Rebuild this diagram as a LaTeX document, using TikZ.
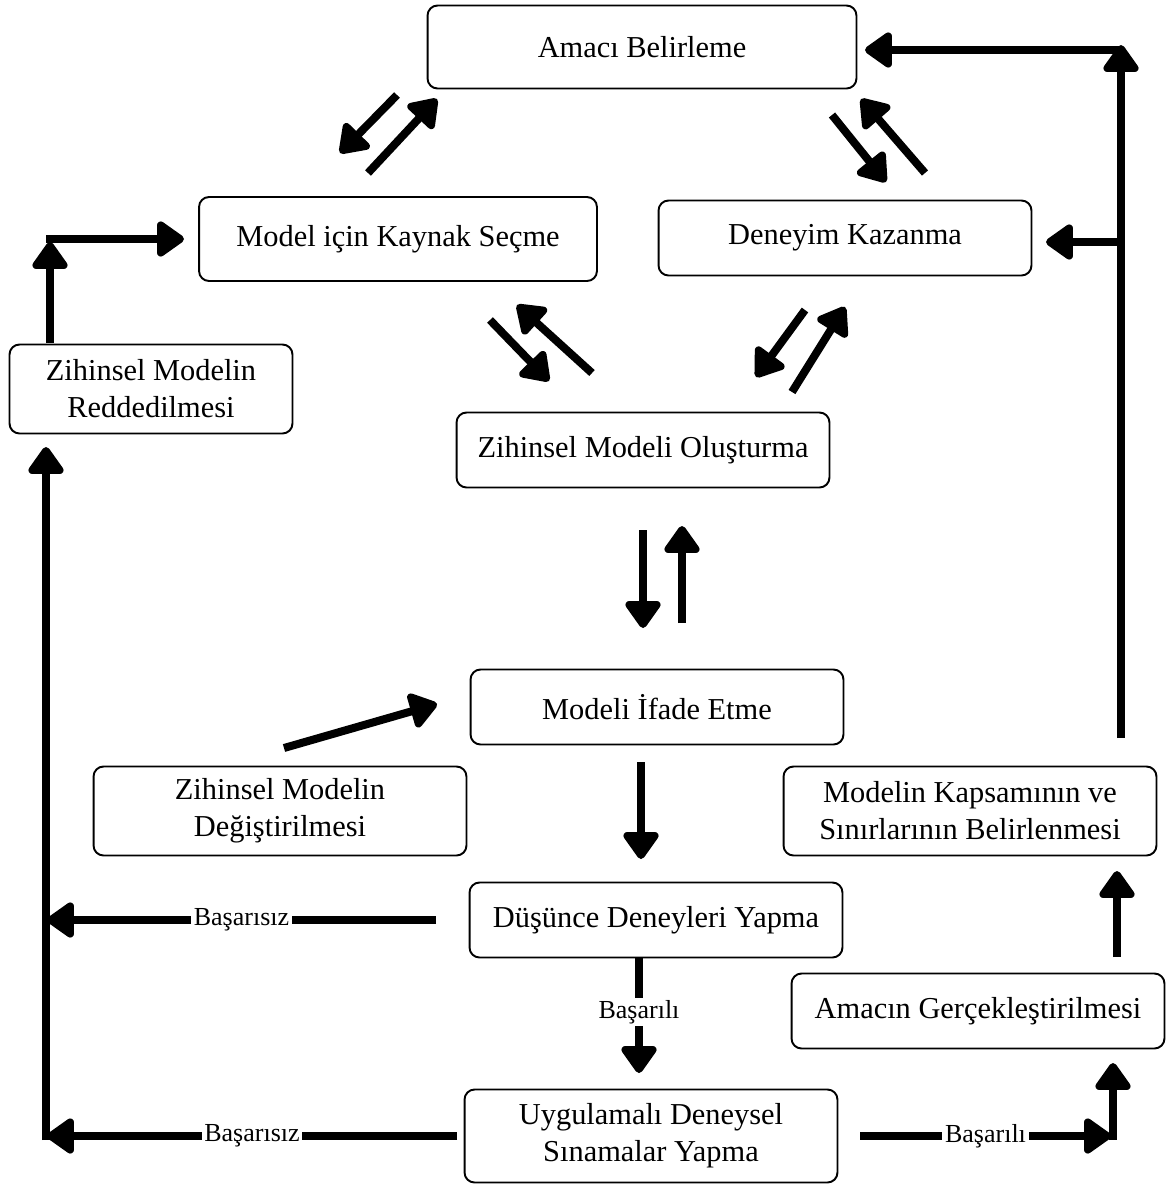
\documentclass[tikz,border=0pt]{standalone}
\usepackage{fontspec}
\setmainfont{Liberation Serif}
\usetikzlibrary{arrows.meta}

\begin{document}
\begin{tikzpicture}[x=0.02cm, y=-0.02cm,
    box/.style={draw, rounded corners=0.2cm, line width=1.1pt, minimum width=7.46cm, minimum height=1.5cm, align=center, font=\fontsize{17.3}{21}\selectfont},
    arr/.style={line width=0.16cm, -{Triangle[length=0.6cm, width=0.8cm, round]}},
    lbl/.style={fill=white, inner sep=1.5pt, font=\fontsize{14.8}{17}\selectfont}]
    \useasboundingbox (0,0) rectangle (1166,1187);

    \node[box, minimum width=8.58cm, minimum height=1.66cm] (amac) at (642, 47) {Amacı Belirleme};
    \node[box, minimum width=7.96cm, minimum height=1.68cm] (kaynak) at (398, 239) {Model için Kaynak Seçme};
    \node[box] (deneyim) at (845, 238) {Deneyim Kazanma};
    \node[box, minimum width=5.66cm, minimum height=1.78cm] (ret) at (151, 389) {Zihinsel Modelin\\Reddedilmesi};
    \node[box] (olustur) at (643, 450) {Zihinsel Modeli Oluşturma};
    \node[box] (ifade) at (657, 707) {Modeli İfade Etme};
    \node[box, minimum height=1.78cm] (degis) at (280, 811) {Zihinsel Modelin\\Değiştirilmesi};
    \node[box, minimum height=1.78cm] (kapsam) at (970, 811) {Modelin Kapsamının ve\\Sınırlarının Belirlenmesi};
    \node[box] (dusunce) at (656, 920) {Düşünce Deneyleri Yapma};
    \node[box] (gercek) at (978, 1011) {Amacın Gerçekleştirilmesi};
    \node[box, minimum height=1.86cm] (uygula) at (651, 1136) {Uygulamalı Deneysel\\Sınamalar Yapma};

    % ends of the floating arrows
    \coordinate (ak1) at (397, 95);   \coordinate (ak2) at (340, 153);
    \coordinate (ka1) at (368, 173);  \coordinate (ka2) at (437, 99);
    \coordinate (ad1) at (832, 115);  \coordinate (ad2) at (886, 182);
    \coordinate (da1) at (925, 173);  \coordinate (da2) at (861, 99);
    \coordinate (ko1) at (490, 320);  \coordinate (ko2) at (549, 381);
    \coordinate (ok1) at (592, 373);  \coordinate (ok2) at (517, 305);
    \coordinate (do1) at (805, 310);  \coordinate (do2) at (756, 377);
    \coordinate (od1) at (792, 392);  \coordinate (od2) at (845, 307);
    \coordinate (oi1) at (643, 530);  \coordinate (oi2) at (643, 628);
    \coordinate (io1) at (682, 623);  \coordinate (io2) at (682, 526);
    \coordinate (id1) at (641, 762);  \coordinate (id2) at (641, 859);
    \coordinate (di1) at (284, 748);  \coordinate (di2) at (437, 704);
    \coordinate (du1) at (639, 958);  \coordinate (du2) at (639, 1073);
    \coordinate (gk1) at (1117, 957); \coordinate (gk2) at (1117, 871);

    % frame lines
    \coordinate (lf1) at (436, 920);  \coordinate (lf2) at (47, 920);
    \coordinate (lf3) at (457, 1136); \coordinate (lf4) at (47, 1136);
    \coordinate (lb) at (46, 1140);   \coordinate (lt) at (46, 447);
    \coordinate (ru1) at (50, 343);   \coordinate (ru2) at (50, 242);
    \coordinate (rk1) at (46, 239);   \coordinate (rk2) at (184, 239);
    \coordinate (us1) at (860, 1136); \coordinate (us2) at (1111, 1136);
    \coordinate (uu1) at (1113, 1140); \coordinate (uu2) at (1113, 1063);
    \coordinate (kb) at (1121, 738);  \coordinate (kt) at (1121, 45);
    \coordinate (ka) at (1121, 50);   \coordinate (kl) at (865, 50);
    \coordinate (kd1) at (1121, 242); \coordinate (kd2) at (1046, 242);

    \draw[arr] (ak1) -- (ak2);
    \draw[arr] (ka1) -- (ka2);
    \draw[arr] (ad1) -- (ad2);
    \draw[arr] (da1) -- (da2);
    \draw[arr] (ko1) -- (ko2);
    \draw[arr] (ok1) -- (ok2);
    \draw[arr] (do1) -- (do2);
    \draw[arr] (od1) -- (od2);
    \draw[arr] (oi1) -- (oi2);
    \draw[arr] (io1) -- (io2);
    \draw[arr] (id1) -- (id2);
    \draw[arr] (di1) -- (di2);
    \draw[arr] (du1) -- node[lbl, pos=0.47] {Başarılı} (du2);
    \draw[arr] (gk1) -- (gk2);

    \draw[arr] (lf1) -- node[lbl, pos=0.5] {Başarısız} (lf2);
    \draw[arr] (lf3) -- node[lbl, pos=0.5] {Başarısız} (lf4);
    \draw[arr] (lb) -- (lt);
    \draw[arr] (ru1) -- (ru2);
    \draw[arr] (rk1) -- (rk2);
    \draw[arr] (us1) -- node[lbl, pos=0.5] {Başarılı} (us2);
    \draw[arr] (uu1) -- (uu2);
    \draw[arr] (kb) -- (kt);
    \draw[arr] (ka) -- (kl);
    \draw[arr] (kd1) -- (kd2);

\end{tikzpicture}
\end{document}
